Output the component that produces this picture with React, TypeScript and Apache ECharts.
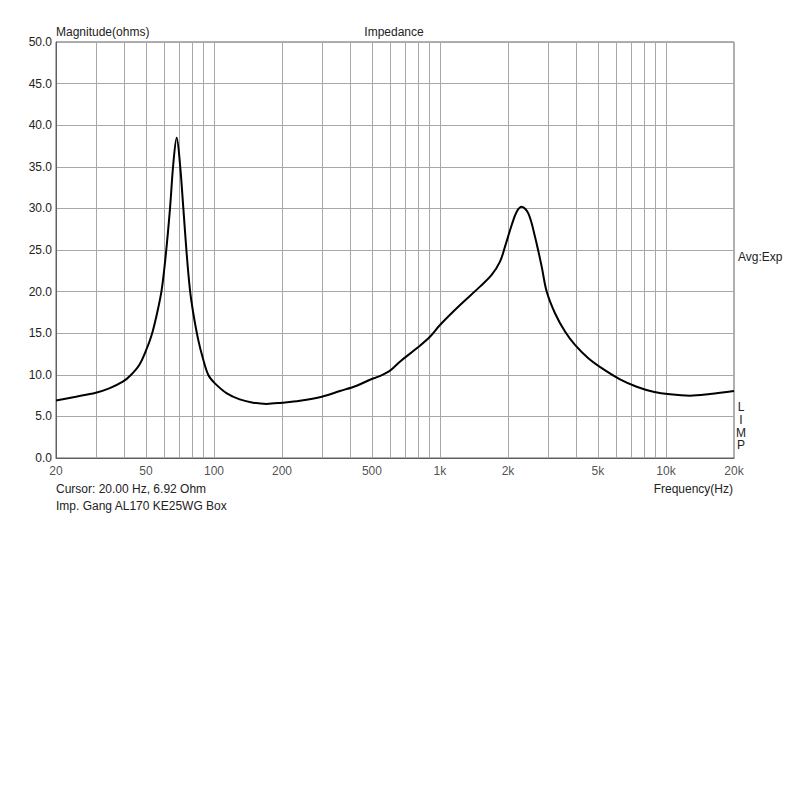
import React, { useEffect, useRef } from "react";
import * as echarts from "echarts";

const freqs = [20, 24.5, 30, 34.4, 39.5, 42.9, 46.7, 50, 53, 56, 58.7, 61.3, 63.9, 66.1, 68.4, 70.7, 73.2, 75.7, 78.3, 81, 85.2, 89.7, 94.4, 101, 114, 130, 149, 171, 200, 240, 300, 361, 428, 499, 534, 601, 665, 789, 903, 1000, 1227, 1503, 1693, 1843, 1940, 2077, 2185, 2299, 2460, 2633, 2819, 2966, 3228, 3575, 3957, 4533, 5280, 6260, 7420, 8790, 10420, 12770, 15660, 20000];
const ohms = [6.92, 7.37, 7.85, 8.37, 9.17, 9.98, 11.18, 12.9, 14.78, 17.4, 20.2, 24.6, 30.0, 35.4, 38.5, 35.4, 30.0, 24.6, 20.2, 17.4, 14.2, 11.8, 9.98, 8.97, 7.77, 7.05, 6.65, 6.5, 6.65, 6.89, 7.37, 8.05, 8.69, 9.5, 9.77, 10.5, 11.58, 13.18, 14.58, 15.99, 18.39, 20.6, 22.0, 23.6, 25.4, 28.0, 29.6, 30.2, 29.4, 26.6, 23.0, 20.0, 17.4, 15.2, 13.6, 12.0, 10.68, 9.46, 8.57, 7.97, 7.65, 7.49, 7.69, 8.05];

const gridFreqs = [20, 30, 40, 50, 60, 70, 80, 90, 100, 200, 300, 400, 500, 600, 700, 800, 900, 1000, 2000, 3000, 4000, 5000, 6000, 7000, 8000, 9000, 10000, 20000];
const tickFreqs = [20, 50, 100, 200, 500, 1000, 2000, 5000, 10000, 20000];
const tickLabels = ["20", "50", "100", "200", "500", "1k", "2k", "5k", "10k", "20k"];

const FONT = '12px "Liberation Sans", Arial, sans-serif';
const TXT = "#222";
const GRID = "#a8a8a8";
const FRAME = "#606060";

export default function App() {
  const ref = useRef<HTMLDivElement>(null);
  useEffect(() => {
    if (!ref.current) return;
    const chart = echarts.init(ref.current, undefined, { renderer: "svg" });
    const text = (t: string, x: number, y: number, align: string = "left") => ({
      type: "text",
      x,
      y,
      style: { text: t, fill: TXT, font: FONT, align, verticalAlign: "middle" },
    });
    chart.setOption({
      animation: false,
      backgroundColor: "#fff",
      textStyle: { fontFamily: '"Liberation Sans", Arial, sans-serif' },
      grid: { left: 56, top: 42, width: 678, height: 416, show: true, borderColor: FRAME, borderWidth: 1, backgroundColor: "transparent" },
      xAxis: {
        type: "log",
        logBase: 10,
        min: 20,
        max: 20000,
        axisLabel: { show: false },
        axisTick: { show: false },
        splitLine: { show: false },
        axisLine: { show: true, lineStyle: { color: FRAME, width: 1 } },
      },
      yAxis: {
        type: "value",
        min: 0,
        max: 50,
        interval: 5,
        axisLabel: { formatter: (v: number) => v.toFixed(1), color: TXT, fontSize: 12, margin: 4 },
        axisTick: { show: false },
        axisLine: { show: true, lineStyle: { color: FRAME, width: 1 } },
        splitLine: { show: true, lineStyle: { color: GRID, width: 1 } },
      },
      series: [
        {
          type: "scatter",
          z: 1,
          clip: false,
          symbolSize: 0,
          silent: true,
          data: tickFreqs.map((f) => [f, 0]),
          label: {
            show: true,
            position: "bottom",
            distance: 7,
            formatter: (p: any) => tickLabels[p.dataIndex],
            color: TXT,
            fontSize: 12,
          },
          markLine: {
            silent: true,
            symbol: ["none", "none"],
            label: { show: false },
            lineStyle: { color: GRID, type: "solid", width: 1 },
            data: gridFreqs.filter((f) => f > 20 && f < 20000).map((f) => ({ xAxis: f })),
          },
        },
        {
          type: "line",
          z: 5,
          data: freqs.map((f, i) => [f, ohms[i]]),
          showSymbol: false,
          smooth: 0.35,
          lineStyle: { color: "#000", width: 2 },
        },
      ],
      graphic: [
        text("Magnitude(ohms)", 56, 32),
        text("Impedance", 394, 32, "center"),
        text("Cursor: 20.00 Hz, 6.92 Ohm", 56, 489),
        text("Imp. Gang AL170 KE25WG Box", 56, 506),
        text("Frequency(Hz)", 733, 489, "right"),
        text("Avg:Exp", 738, 257),
        {
          type: "text",
          x: 741,
          y: 401,
          style: { text: "L\nI\nM\nP", fill: TXT, font: FONT, align: "center", verticalAlign: "top", lineHeight: 12.7 },
        },
      ],
    });
    return () => chart.dispose();
  }, []);
  return <div ref={ref} style={{ position: "absolute", left: 0, top: 0, width: 789, height: 800 }} />;
}
